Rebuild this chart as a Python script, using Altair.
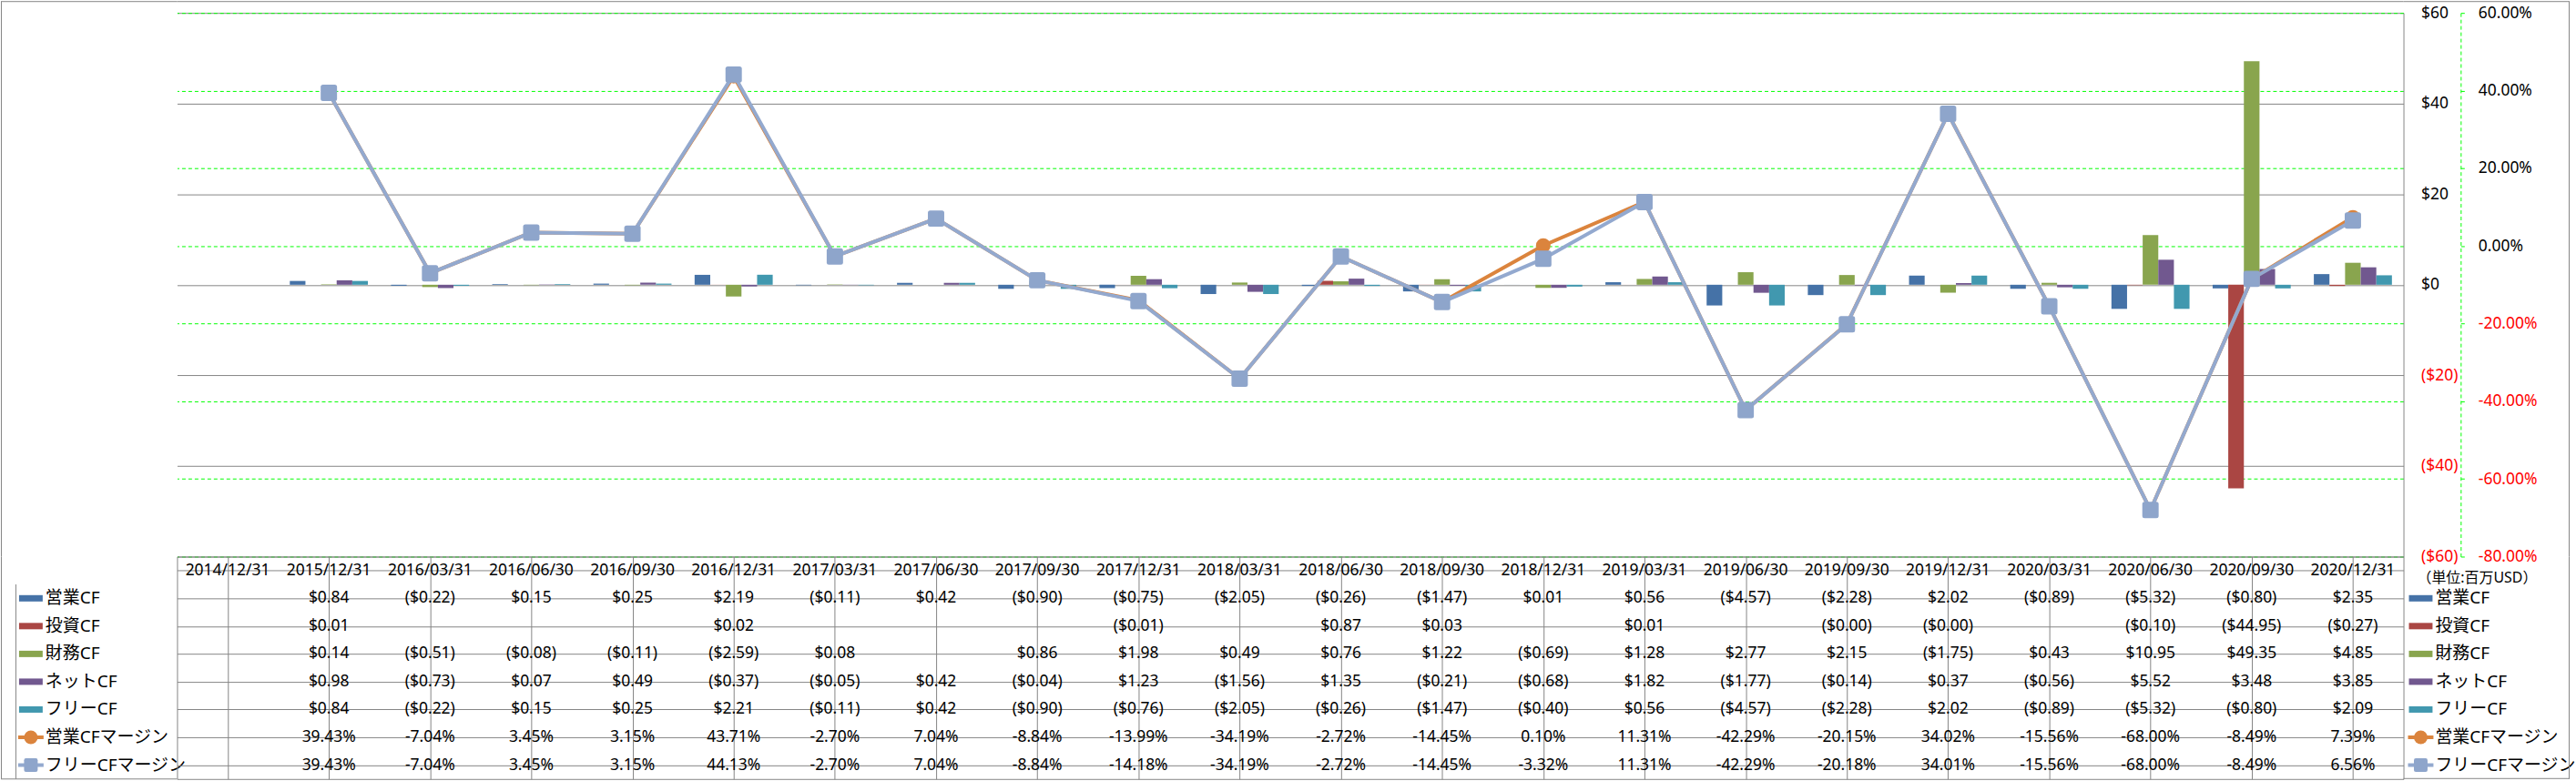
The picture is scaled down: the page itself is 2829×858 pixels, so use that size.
import altair as alt
import pandas as pd

# ---------------- data ----------------
dates = ["2014/12/31", "2015/12/31", "2016/03/31", "2016/06/30", "2016/09/30", "2016/12/31",
         "2017/03/31", "2017/06/30", "2017/09/30", "2017/12/31", "2018/03/31", "2018/06/30",
         "2018/09/30", "2018/12/31", "2019/03/31", "2019/06/30", "2019/09/30", "2019/12/31",
         "2020/03/31", "2020/06/30", "2020/09/30", "2020/12/31"]

eigyo_cf = [None, 0.84, -0.22, 0.15, 0.25, 2.19, -0.11, 0.42, -0.90, -0.75, -2.05, -0.26,
            -1.47, 0.01, 0.56, -4.57, -2.28, 2.02, -0.89, -5.32, -0.80, 2.35]
toshi_cf = [None, 0.01, None, None, None, 0.02, None, None, None, -0.01, None, 0.87,
            0.03, None, 0.01, None, -0.001, -0.001, None, -0.10, -44.95, -0.27]
zaimu_cf = [None, 0.14, -0.51, -0.08, -0.11, -2.59, 0.08, None, 0.86, 1.98, 0.49, 0.76,
            1.22, -0.69, 1.28, 2.77, 2.15, -1.75, 0.43, 10.95, 49.35, 4.85]
net_cf = [None, 0.98, -0.73, 0.07, 0.49, -0.37, -0.05, 0.42, -0.04, 1.23, -1.56, 1.35,
          -0.21, -0.68, 1.82, -1.77, -0.14, 0.37, -0.56, 5.52, 3.48, 3.85]
free_cf = [None, 0.84, -0.22, 0.15, 0.25, 2.21, -0.11, 0.42, -0.90, -0.76, -2.05, -0.26,
           -1.47, -0.40, 0.56, -4.57, -2.28, 2.02, -0.89, -5.32, -0.80, 2.09]
eigyo_margin = [None, 39.43, -7.04, 3.45, 3.15, 43.71, -2.70, 7.04, -8.84, -13.99, -34.19, -2.72,
                -14.45, 0.10, 11.31, -42.29, -20.15, 34.02, -15.56, -68.00, -8.49, 7.39]
free_margin = [None, 39.43, -7.04, 3.45, 3.15, 44.13, -2.70, 7.04, -8.84, -14.18, -34.19, -2.72,
               -14.45, -3.32, 11.31, -42.29, -20.18, 34.01, -15.56, -68.00, -8.49, 6.56]

bar_series = ["営業CF", "投資CF", "財務CF", "ネットCF", "フリーCF"]
line_series = ["営業CFマージン", "フリーCFマージン"]
unit_label = "（単位:百万USD）"

bar_values = [eigyo_cf, toshi_cf, zaimu_cf, net_cf, free_cf]
line_values = [eigyo_margin, free_margin]

# ---------------- styles ----------------
bar_colors = ["#4572A7", "#AA4643", "#89A54E", "#71588F", "#4198AF"]
ORANGE = "#DB843D"
BLUE = "#93A9CF"
BLUE_MARK = "#8EA5CB"
GRAY = "#868686"
GREEN = "#00FF00"
RED = "#FF0000"
LATIN = "Noto Sans"
JP = "Noto Sans, Noto Sans CJK JP"
PLOT_W, PLOT_H, TABLE_H = 2452, 599, 245
LEFT_W, RIGHT_W = 178, 183
FRAME_LEFT, FRAME_TOP = -15.5, -12.5

RECT_PATH = "M-1,-0.27H1V0.27H-1Z"
ROUND_SQ = ("M-0.72,-1H0.72Q1,-1 1,-0.72V0.72Q1,1 0.72,1H-0.72Q-1,1 -1,0.72"
            "V-0.72Q-1,-1 -0.72,-1Z")

# ---------------- frames ----------------
bar_rows = []
for s, vals in zip(bar_series, bar_values):
    for d, v in zip(dates, vals):
        if v is not None:
            bar_rows.append({"date": d, "series": s, "value": v})
bar_df = pd.DataFrame(bar_rows)

line_rows = []
for s, vals in zip(line_series, line_values):
    for i, (d, v) in enumerate(zip(dates, vals)):
        if v is not None:
            line_rows.append({"date": d, "series": s, "margin": v, "idx": i})
line_df = pd.DataFrame(line_rows)


def money(v):
    return f"(${abs(v):.2f})" if v < 0 else f"${v:.2f}"


def pct(v):
    return f"{v:.2f}%"


table_rows = [{"row": "header", "date": d, "text": d} for d in dates]
for s, vals in zip(bar_series, bar_values):
    for d, v in zip(dates, vals):
        if v is not None:
            table_rows.append({"row": s, "date": d, "text": money(v)})
for s, vals in zip(line_series, line_values):
    for d, v in zip(dates, vals):
        if v is not None:
            table_rows.append({"row": s, "date": d, "text": pct(v)})
table_df = pd.DataFrame(table_rows)

all_series = bar_series + line_series
legend_df = pd.DataFrame({"row": all_series,
                          "kind": ["bar"] * len(bar_series) + ["line"] * len(line_series)})
unit_df = pd.DataFrame({"row": ["header"], "text": [unit_label]})
one_df = pd.DataFrame({"a": [0]})

row_domain = ["header"] + all_series
color_scale = alt.Scale(domain=all_series, range=bar_colors + [ORANGE, BLUE])


def frame_rule(x, x2=None, y=None, y2=None):
    enc = {"x": alt.value(x), "y": alt.value(y)}
    if x2 is not None:
        enc["x2"] = alt.value(x2)
    if y2 is not None:
        enc["y2"] = alt.value(y2)
    return alt.Chart(one_df).mark_rule(color=GRAY, strokeWidth=1).encode(**enc)


# ---------------- plot ----------------
xscale = alt.Scale(domain=dates, paddingInner=0, paddingOuter=0)
xenc = alt.X("date:N", scale=xscale, axis=None)

money_axis = alt.Axis(
    orient="right", values=[-60, -40, -20, 0, 20, 40, 60], title=None,
    labelExpr="datum.value < 0 ? '($' + format(-datum.value, 'd') + ')' : '$' + format(datum.value, 'd')",
    labelColor={"condition": {"test": "datum.value < 0", "value": RED}, "value": "#000000"},
    labelFont=LATIN, labelFontSize=17.5, labelPadding=19, ticks=False, tickSize=0,
    grid=True, gridColor=GRAY, gridWidth=1, domainColor=GRAY, domainWidth=1,
)
pct_axis = alt.Axis(
    orient="right", offset=63, values=[-80, -60, -40, -20, 0, 20, 40, 60], title=None,
    labelExpr="(datum.value < 0 ? '-' : '') + format(abs(datum.value), '.2f') + '%'",
    labelColor={"condition": {"test": "datum.value < 0", "value": RED}, "value": "#000000"},
    labelFont=LATIN, labelFontSize=17.5, labelPadding=14,
    grid=True, gridColor=GREEN, gridDash=[4, 3], gridWidth=1,
    domainColor=GREEN, domainDash=[4, 3], domainWidth=1,
    tickColor=GREEN, tickDash=[4, 3], tickSize=5, tickWidth=1,
)
money_scale = alt.Scale(domain=[-60, 60], nice=False, zero=False)
pct_scale = alt.Scale(domain=[-80, 60], nice=False, zero=False)

bars = alt.Chart(bar_df).mark_bar().encode(
    x=xenc,
    xOffset=alt.XOffset("series:N", scale=alt.Scale(domain=bar_series, paddingInner=0, paddingOuter=0.74)),
    y=alt.Y("value:Q", scale=money_scale, axis=money_axis),
    color=alt.Color("series:N", scale=color_scale, legend=None),
)


def margin_line(name, color):
    return alt.Chart(line_df).transform_filter(alt.datum.series == name).mark_line(
        color=color, strokeWidth=4, strokeJoin="round", strokeCap="round"
    ).encode(x=xenc, y=alt.Y("margin:Q", scale=pct_scale, axis=pct_axis), order="idx:Q")


def margin_points(name, color, shape, size):
    return alt.Chart(line_df).transform_filter(alt.datum.series == name).mark_point(
        filled=True, opacity=1, color=color, shape=shape, size=size
    ).encode(x=xenc, y=alt.Y("margin:Q", scale=pct_scale, axis=pct_axis))


lines = alt.layer(
    margin_line(line_series[0], ORANGE),
    margin_points(line_series[0], ORANGE, "circle", 256),
    margin_line(line_series[1], BLUE),
    margin_points(line_series[1], BLUE_MARK, ROUND_SQ, 324),
)

plot = alt.layer(
    bars, lines, frame_rule(0, "width", FRAME_TOP)
).resolve_scale(y="independent").properties(width=PLOT_W, height=PLOT_H)

# ---------------- data table ----------------
grid_axis_y = alt.Axis(grid=True, bandPosition=0, labels=False, ticks=False, domain=False,
                       title=None, gridColor=GRAY, gridWidth=1)
grid_axis_x = alt.Axis(grid=True, bandPosition=0, labels=False, ticks=False, domain=False,
                       title=None, gridColor=GRAY, gridWidth=1)
row_scale = alt.Scale(domain=row_domain, paddingInner=0, paddingOuter=0)

grid = alt.Chart(table_df).mark_text(font=LATIN, fontSize=17.5, color="#000000").encode(
    x=alt.X("date:N", scale=xscale, axis=grid_axis_x),
    y=alt.Y("row:N", scale=row_scale, axis=grid_axis_y),
    text="text:N",
).properties(width=PLOT_W, height=TABLE_H, view=alt.ViewBackground(stroke=GRAY, strokeWidth=1))


def legend_panel(width, key_x, text_x, left_side):
    y_plain = alt.Y("row:N", scale=row_scale, axis=None)
    if left_side:
        y_first = alt.Y("row:N", scale=row_scale, axis=alt.Axis(
            grid=True, bandPosition=0, labels=False, ticks=False, domain=False, title=None,
            gridColor=GRAY, gridWidth=1, values=all_series))
    else:
        y_first = y_plain
    col = alt.Color("row:N", scale=color_scale, legend=None)
    base = alt.Chart(legend_df)
    layers = [
        base.transform_filter("datum.kind == 'bar'").mark_point(
            shape=RECT_PATH, filled=True, opacity=1, size=676
        ).encode(x=alt.value(key_x), y=y_first, color=col),
        base.transform_filter("datum.kind == 'line'").mark_rule(strokeWidth=4).encode(
            x=alt.value(key_x - 14), x2=alt.value(key_x + 14), y=y_plain, color=col),
        base.transform_filter(alt.datum.row == line_series[0]).mark_point(
            shape="circle", filled=True, opacity=1, size=225, color=ORANGE
        ).encode(x=alt.value(key_x), y=y_plain),
        base.transform_filter(alt.datum.row == line_series[1]).mark_point(
            shape=ROUND_SQ, filled=True, opacity=1, size=225, color=BLUE_MARK
        ).encode(x=alt.value(key_x), y=y_plain),
        base.mark_text(align="left", font=JP, fontSize=19, color="#000000").encode(
            x=alt.value(text_x), y=y_plain, text="row:N"),
    ]
    if left_side:
        layers.append(
            base.transform_filter(alt.datum.row == all_series[0]).mark_rule(color=GRAY, strokeWidth=1).encode(
                x=alt.value(0.5),
                y=alt.Y("row:N", scale=row_scale, axis=None, bandPosition=0),
                y2=alt.value("height"))
        )
        layers.append(frame_rule(FRAME_LEFT - 0.5, "width", "height"))
        layers.append(frame_rule(FRAME_LEFT, y=0, y2="height"))
    else:
        layers.append(
            alt.Chart(unit_df).mark_text(align="left", font=JP, fontSize=16, color="#000000", dy=8).encode(
                x=alt.value(15), y=y_plain, text="text:N")
        )
        layers.append(frame_rule(0, "width", TABLE_H - 0.5))
        layers.append(frame_rule(width - 0.5, y=0, y2="height"))
    return alt.layer(*layers).properties(width=width, height=TABLE_H)


leg_left = legend_panel(LEFT_W, 17, 33, True)
leg_right = legend_panel(RIGHT_W, 19, 35, False)

spacer_left = alt.layer(
    frame_rule(FRAME_LEFT - 0.5, "width", FRAME_TOP),
    frame_rule(FRAME_LEFT, y=FRAME_TOP, y2="height"),
).properties(width=LEFT_W, height=PLOT_H)
spacer_right = alt.layer(
    frame_rule(0, "width", FRAME_TOP),
    frame_rule(RIGHT_W - 0.5, y=FRAME_TOP, y2="height"),
).properties(width=RIGHT_W, height=PLOT_H)

chart = alt.concat(
    spacer_left, plot, spacer_right,
    leg_left, grid, leg_right,
    columns=3, spacing=0, bounds="flush", align="each",
).properties(
    padding={"left": 0, "top": 0, "right": 0, "bottom": 1},
    background="#FFFFFF",
).configure_view(strokeWidth=0)

chart.save("out.html", embed_options={"renderer": "svg", "actions": False})
